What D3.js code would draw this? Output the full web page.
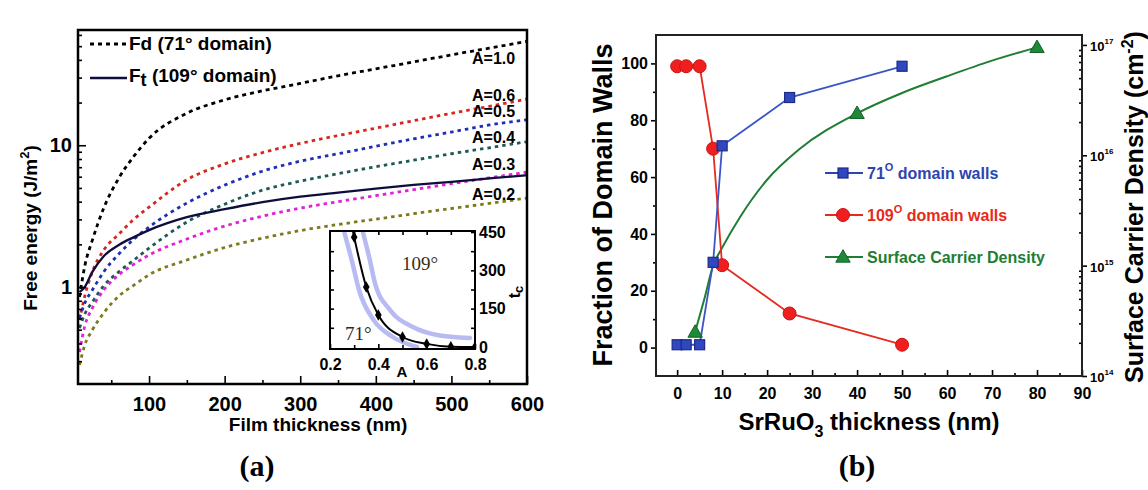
<!DOCTYPE html>
<html>
<head>
<meta charset="utf-8">
<script src="https://cdn.jsdelivr.net/npm/d3@7"></script>
<style>
body { margin: 0; background: #fff; }
</style>
</head>
<body>
<svg id="chart" width="1148" height="490" font-family="Arial, 'Liberation Sans', sans-serif"></svg>
<script>
// ---------- panel (a): free energy vs film thickness ----------
var thickness = [8, 15, 25, 40, 60, 80, 100, 150, 200, 250, 300, 350, 400, 450, 500, 550, 600];
var fdA10 = [0.85, 1.41, 2.14, 3.60, 5.86, 8.37, 11.2, 16.8, 20.9, 24.2, 27.3, 30.9, 34.6, 38.7, 43.4, 48.4, 54.0];
var fdA06 = [0.585, 0.864, 1.28, 1.82, 2.36, 3.01, 3.66, 5.71, 7.39, 8.87, 10.3, 11.7, 13.2, 14.9, 16.8, 18.8, 21.2];
var fdA05 = [0.605, 0.772, 0.952, 1.28, 1.71, 2.18, 2.65, 3.91, 5.23, 6.56, 7.72, 8.71, 9.84, 11.1, 12.4, 13.9, 15.1];
var fdA04 = [0.514, 0.645, 0.784, 1.02, 1.28, 1.55, 1.88, 2.87, 3.84, 4.82, 5.58, 6.30, 7.06, 7.84, 8.71, 9.60, 10.6];
var fdA03 = [0.348, 0.531, 0.711, 0.952, 1.22, 1.45, 1.68, 2.18, 2.69, 3.16, 3.60, 4.00, 4.41, 4.86, 5.36, 5.89, 6.45];
var fdA02 = [0.282, 0.390, 0.498, 0.656, 0.864, 1.03, 1.22, 1.55, 1.90, 2.21, 2.50, 2.76, 3.01, 3.29, 3.58, 3.89, 4.24];
var ft109 = [0.92, 1.0, 1.28, 1.65, 1.98, 2.25, 2.52, 3.11, 3.54, 3.97, 4.34, 4.64, 4.94, 5.25, 5.52, 5.83, 6.15];
var energyMajor = [1, 10];
var energyMinor = [0.3, 0.4, 0.5, 0.6, 0.7, 0.8, 0.9, 2, 3, 4, 5, 6, 7, 8, 9, 20, 30, 40, 50, 60];
var thickMajor = [100, 200, 300, 400, 500, 600];
var thickMinor = [50, 150, 250, 350, 450, 550];

// inset: critical thickness vs A
var insetA = [0.28, 0.3, 0.35, 0.4, 0.5, 0.6, 0.7, 0.8];
var insetTc = [520, 430, 235, 125, 39, 12, 1, 0];
var bandLowA = [0.26, 0.29, 0.32, 0.38, 0.46, 0.56];
var bandLowTc = [446, 340, 223, 106, 39, 0];
var bandHighA = [0.337, 0.365, 0.386, 0.448, 0.543, 0.643, 0.779];
var bandHighTc = [446, 340, 250, 145, 78, 47, 35];

// ---------- panel (b): domain walls vs SrRuO3 thickness ----------
var sroThickness = [0, 2, 5, 8, 10, 25, 50];
var walls71 = [1, 1, 1, 30, 71, 88, 99];
var walls109 = [99, 99, 99, 70, 29, 12, 1];
var densityX = [4, 40, 80];
var density = [2.5e14, 2.4e16, 9.5e16];
var densityFitX = [4, 6, 8, 10, 14, 20, 27, 40, 50, 60, 70, 80];
var densityFit = [2.5e14, 4.9e14, 1.0e15, 1.45e15, 2.76e15, 6.0e15, 1.12e16, 2.4e16, 3.67e16, 5.2e16, 7.2e16, 9.5e16];

var serif = '"Liberation Serif", "Times New Roman", serif';
var svg = d3.select('#chart');
svg.append('rect').attr('width', 1148).attr('height', 490).attr('fill', '#fff');

function zip(xs, ys) { return xs.map(function(x, i) { return [x, ys[i]]; }); }
function styleAxis(g, size) {
  g.select('.domain').remove();
  g.attr('font-family', null);
  g.selectAll('line').attr('stroke', '#000').attr('stroke-width', 1.6);
  g.selectAll('text').attr('font-size', size).attr('font-weight', 'bold').attr('fill', '#000');
}

// ===== panel (a) =====
var pa = {l: 78, r: 527, t: 30, b: 384};
var xA = d3.scaleLinear().domain([6, 600]).range([pa.l, pa.r]);
var yA = d3.scaleLog().domain([0.207, 65]).range([pa.b, pa.t]);

svg.append('clipPath').attr('id', 'clipA').append('rect')
  .attr('x', pa.l).attr('y', pa.t).attr('width', pa.r - pa.l).attr('height', pa.b - pa.t);

var seriesA = [
  {name: 'A=1.0', values: fdA10, color: '#000000', dash: '4 4', dy: 16},
  {name: 'A=0.6', values: fdA06, color: '#d8261f', dash: '3.5 4', dy: -5},
  {name: 'A=0.5', values: fdA05, color: '#1f2fb5', dash: '3.5 4', dy: -8},
  {name: 'A=0.4', values: fdA04, color: '#1d5a55', dash: '3.5 4', dy: -5},
  {name: 'A=0.3', values: fdA03, color: '#e021d8', dash: '3.5 4', dy: -8},
  {name: 'A=0.2', values: fdA02, color: '#7d7a1c', dash: '3.5 4', dy: -3}
];

var lineA = d3.line().x(function(d) { return xA(d[0]); }).y(function(d) { return yA(d[1]); })
  .curve(d3.curveMonotoneX);

var curves = svg.append('g').attr('clip-path', 'url(#clipA)');
curves.selectAll('path.fd').data(seriesA).join('path').attr('class', 'fd')
  .attr('d', function(s) { return lineA(zip(thickness, s.values)); })
  .attr('fill', 'none').attr('stroke', function(s) { return s.color; })
  .attr('stroke-width', 2.8).attr('stroke-dasharray', function(s) { return s.dash; });
curves.append('path').attr('d', lineA(zip(thickness, ft109)))
  .attr('fill', 'none').attr('stroke', '#0e0e3c').attr('stroke-width', 2.3);

// A labels near the right end
var i550 = thickness.indexOf(550);
svg.selectAll('text.alab').data(seriesA).join('text').attr('class', 'alab')
  .attr('x', 472).attr('y', function(s) { return yA(s.values[i550]) + s.dy; })
  .attr('font-size', 16).attr('font-weight', 'bold').text(function(s) { return s.name; });

// axes (ticks inward)
var axAy = svg.append('g').attr('transform', 'translate(' + pa.l + ',0)')
  .call(d3.axisLeft(yA).tickValues(energyMajor).tickSize(-8).tickPadding(6).tickFormat(d3.format('~g')));
styleAxis(axAy, 20);
var axAym = svg.append('g').attr('transform', 'translate(' + pa.l + ',0)')
  .call(d3.axisLeft(yA).tickValues(energyMinor).tickSize(-4).tickFormat(''));
styleAxis(axAym, 10);
var axAx = svg.append('g').attr('transform', 'translate(0,' + pa.b + ')')
  .call(d3.axisBottom(xA).tickValues(thickMajor).tickSize(-8).tickPadding(13));
styleAxis(axAx, 20);
var axAxm = svg.append('g').attr('transform', 'translate(0,' + pa.b + ')')
  .call(d3.axisBottom(xA).tickValues(thickMinor).tickSize(-4).tickFormat(''));
styleAxis(axAxm, 10);

svg.append('rect').attr('x', pa.l).attr('y', pa.t).attr('width', pa.r - pa.l).attr('height', pa.b - pa.t)
  .attr('fill', 'none').attr('stroke', '#000').attr('stroke-width', 2.5);

// legend (a)
svg.append('line').attr('x1', 90).attr('x2', 127).attr('y1', 44).attr('y2', 44)
  .attr('stroke', '#000').attr('stroke-width', 2.8).attr('stroke-dasharray', '4 4');
svg.append('text').attr('x', 129).attr('y', 50).attr('font-size', 19).attr('font-weight', 'bold')
  .text('Fd (71\u00b0 domain)');
svg.append('line').attr('x1', 90).attr('x2', 127).attr('y1', 78).attr('y2', 78)
  .attr('stroke', '#0e0e3c').attr('stroke-width', 2.3);
var ftLab = svg.append('text').attr('x', 129).attr('y', 82).attr('font-size', 19).attr('font-weight', 'bold');
ftLab.append('tspan').text('F');
ftLab.append('tspan').attr('dy', 4).attr('font-size', 18).text('t');
ftLab.append('tspan').attr('dy', -4).text(' (109\u00b0 domain)');

// axis titles (a)
svg.append('text').attr('x', 318).attr('y', 431).attr('text-anchor', 'middle')
  .attr('font-size', 19).attr('font-weight', 'bold').text('Film thickness (nm)');
var yTitleA = svg.append('text').attr('transform', 'translate(37,228) rotate(-90)')
  .attr('text-anchor', 'middle').attr('font-size', 19).attr('font-weight', 'bold');
yTitleA.append('tspan').text('Free energy (J/m');
yTitleA.append('tspan').attr('dy', -8).attr('font-size', 13).text('2');
yTitleA.append('tspan').attr('dy', 8).text(')');

// ----- inset -----
var ins = {l: 330, r: 475, t: 231, b: 349};
var inX = d3.scaleLinear().domain([0.2, 0.8]).range([ins.l, ins.r]);
var inY = d3.scaleLinear().domain([-8, 454]).range([ins.b, ins.t]);
svg.append('rect').attr('x', ins.l).attr('y', ins.t).attr('width', ins.r - ins.l).attr('height', ins.b - ins.t)
  .attr('fill', '#fff');
svg.append('clipPath').attr('id', 'clipIn').append('rect')
  .attr('x', ins.l).attr('y', ins.t).attr('width', ins.r - ins.l).attr('height', ins.b - ins.t);
var lineIn = d3.line().x(function(d) { return inX(d[0]); }).y(function(d) { return inY(d[1]); })
  .curve(d3.curveMonotoneX);
var inG = svg.append('g').attr('clip-path', 'url(#clipIn)');
[zip(bandLowA, bandLowTc), zip(bandHighA, bandHighTc)].forEach(function(pts) {
  inG.append('path').attr('d', lineIn(pts)).attr('fill', 'none')
    .attr('stroke', '#b7bbf2').attr('stroke-width', 4.5).attr('stroke-linecap', 'round');
});
inG.append('path').attr('d', lineIn(zip(insetA, insetTc))).attr('fill', 'none')
  .attr('stroke', '#000').attr('stroke-width', 2);
inG.selectAll('path.dia').data(zip(insetA, insetTc)).join('path').attr('class', 'dia')
  .attr('transform', function(d) { return 'translate(' + inX(d[0]) + ',' + inY(d[1]) + ')'; })
  .attr('d', d3.symbol().type(d3.symbolDiamond).size(38)).attr('fill', '#000');

var inAxB = svg.append('g').attr('transform', 'translate(0,' + ins.b + ')')
  .call(d3.axisBottom(inX).tickValues([0.2, 0.4, 0.6, 0.8]).tickSize(-5).tickPadding(10).tickFormat(d3.format('.1f')));
styleAxis(inAxB, 16);
var inAxBm = svg.append('g').attr('transform', 'translate(0,' + ins.b + ')')
  .call(d3.axisBottom(inX).tickValues([0.3, 0.5, 0.7]).tickSize(-4).tickFormat(''));
styleAxis(inAxBm, 10);
var inAxT = svg.append('g').attr('transform', 'translate(0,' + ins.t + ')')
  .call(d3.axisTop(inX).tickValues([0.3, 0.4, 0.5, 0.6, 0.7]).tickSize(-4).tickFormat(''));
styleAxis(inAxT, 10);
var inAxR = svg.append('g').attr('transform', 'translate(' + ins.r + ',0)')
  .call(d3.axisRight(inY).tickValues([0, 150, 300, 450]).tickSize(-4).tickPadding(4));
styleAxis(inAxR, 16);
var inAxRm = svg.append('g').attr('transform', 'translate(' + ins.r + ',0)')
  .call(d3.axisRight(inY).tickValues([75, 225, 375]).tickSize(-4).tickFormat(''));
styleAxis(inAxRm, 10);
var inAxL = svg.append('g').attr('transform', 'translate(' + ins.l + ',0)')
  .call(d3.axisLeft(inY).tickValues([75, 150, 225, 300, 375]).tickSize(-4).tickFormat(''));
styleAxis(inAxL, 10);
svg.append('rect').attr('x', ins.l).attr('y', ins.t).attr('width', ins.r - ins.l).attr('height', ins.b - ins.t)
  .attr('fill', 'none').attr('stroke', '#000').attr('stroke-width', 2);

svg.append('text').attr('x', inX(0.498)).attr('y', inY(301)).attr('font-size', 19)
  .attr('font-family', serif).attr('fill', '#3a2e12').text('109\u00b0');
svg.append('text').attr('x', inX(0.262)).attr('y', inY(27)).attr('font-size', 19)
  .attr('font-family', serif).attr('fill', '#2a2a20').text('71\u00b0');
svg.append('text').attr('x', 402).attr('y', 377).attr('text-anchor', 'middle')
  .attr('font-size', 15).attr('font-weight', 'bold').text('A');
var tcLab = svg.append('text').attr('transform', 'translate(520,292) rotate(-90)')
  .attr('text-anchor', 'middle').attr('font-size', 16).attr('font-weight', 'bold');
tcLab.append('tspan').text('t');
tcLab.append('tspan').attr('dy', 3).attr('font-size', 13).text('c');

svg.append('text').attr('x', 257).attr('y', 476).attr('text-anchor', 'middle')
  .attr('font-family', serif).attr('font-weight', 'bold').attr('font-size', 30).text('(a)');

// ===== panel (b) =====
var pb = {l: 656, r: 1082, t: 35, b: 376};
var xB = d3.scaleLinear().domain([-4.7, 90]).range([pb.l, pb.r]);
var yB = d3.scaleLinear().domain([-10, 110]).range([pb.b, pb.t]);
var yB2 = d3.scaleLog().domain([1e14, 1.23e17]).range([pb.b, pb.t]);

var lineB = d3.line().x(function(d) { return xB(d[0]); }).y(function(d) { return yB(d[1]); });
var lineB2 = d3.line().x(function(d) { return xB(d[0]); }).y(function(d) { return yB2(d[1]); })
  .curve(d3.curveMonotoneX);

var cBlue = '#2f43b0', cRed = '#e52a20', cGreen = '#1f7d34';

svg.append('path').attr('d', lineB2(zip(densityFitX, densityFit))).attr('fill', 'none')
  .attr('stroke', cGreen).attr('stroke-width', 2);
svg.append('path').attr('d', lineB(zip(sroThickness, walls109))).attr('fill', 'none')
  .attr('stroke', cRed).attr('stroke-width', 1.8);
svg.append('path').attr('d', lineB(zip(sroThickness, walls71))).attr('fill', 'none')
  .attr('stroke', '#3b55c8').attr('stroke-width', 1.8);

var triSym = d3.symbol().type(d3.symbolTriangle).size(90);
svg.selectAll('path.tri').data(zip(densityX, density)).join('path').attr('class', 'tri')
  .attr('transform', function(d) { return 'translate(' + xB(d[0]) + ',' + (yB2(d[1]) + 1) + ')'; })
  .attr('d', triSym).attr('fill', '#1c8a36').attr('stroke', '#13602a').attr('stroke-width', 1);
svg.selectAll('circle.red').data(zip(sroThickness, walls109)).join('circle').attr('class', 'red')
  .attr('cx', function(d) { return xB(d[0]); }).attr('cy', function(d) { return yB(d[1]); })
  .attr('r', 6.5).attr('fill', '#f01e1e').attr('stroke', '#c81414').attr('stroke-width', 1);
svg.selectAll('rect.blue').data(zip(sroThickness, walls71)).join('rect').attr('class', 'blue')
  .attr('x', function(d) { return xB(d[0]) - 5; }).attr('y', function(d) { return yB(d[1]) - 5; })
  .attr('width', 10).attr('height', 10).attr('fill', '#2f48c0').attr('stroke', '#1c2a88').attr('stroke-width', 1.2);

// axes (b)
var axBl = svg.append('g').attr('transform', 'translate(' + pb.l + ',0)')
  .call(d3.axisLeft(yB).tickValues([0, 20, 40, 60, 80, 100]).tickSize(5).tickPadding(3));
styleAxis(axBl, 16);
var axBlm = svg.append('g').attr('transform', 'translate(' + pb.l + ',0)')
  .call(d3.axisLeft(yB).tickValues([10, 30, 50, 70, 90]).tickSize(3).tickFormat(''));
styleAxis(axBlm, 10);
var axBb = svg.append('g').attr('transform', 'translate(0,' + pb.b + ')')
  .call(d3.axisBottom(xB).tickValues(d3.range(0, 91, 10)).tickSize(-6).tickPadding(12));
styleAxis(axBb, 16);
var axBbm = svg.append('g').attr('transform', 'translate(0,' + pb.b + ')')
  .call(d3.axisBottom(xB).tickValues(d3.range(5, 90, 10)).tickSize(-3).tickFormat(''));
styleAxis(axBbm, 10);

var densMajor = [1e14, 1e15, 1e16, 1e17];
var densMinor = [];
[1e14, 1e15, 1e16].forEach(function(dec) { for (var k = 2; k <= 9; k++) densMinor.push(k * dec); });
var axBr = svg.append('g').attr('transform', 'translate(' + pb.r + ',0)')
  .call(d3.axisRight(yB2).tickValues(densMajor).tickSize(5).tickFormat(''));
styleAxis(axBr, 10);
var axBrm = svg.append('g').attr('transform', 'translate(' + pb.r + ',0)')
  .call(d3.axisRight(yB2).tickValues(densMinor).tickSize(-3).tickFormat(''));
styleAxis(axBrm, 10);
var rLabs = svg.selectAll('text.rlab').data(densMajor).join('text').attr('class', 'rlab')
  .attr('x', pb.r + 8).attr('y', function(d) { return yB2(d) + 6; })
  .attr('font-size', 13).attr('font-weight', 'bold');
rLabs.append('tspan').text('10');
rLabs.append('tspan').attr('dy', -7).attr('font-size', 8)
  .text(function(d) { return Math.round(Math.log10(d)); });

svg.append('rect').attr('x', pb.l).attr('y', pb.t).attr('width', pb.r - pb.l).attr('height', pb.b - pb.t)
  .attr('fill', 'none').attr('stroke', '#222').attr('stroke-width', 2);

// legend (b)
var legB = [
  {label: '71', sup: 'O', rest: ' domain walls', color: cBlue, mark: 'square'},
  {label: '109', sup: 'O', rest: ' domain walls', color: cRed, mark: 'circle'},
  {label: 'Surface Carrier Density', sup: '', rest: '', color: cGreen, mark: 'tri'}
];
legB.forEach(function(e, i) {
  var y = 173 + i * 42;
  svg.append('line').attr('x1', 825).attr('x2', 863).attr('y1', y).attr('y2', y)
    .attr('stroke', e.color).attr('stroke-width', 2);
  if (e.mark === 'square') {
    svg.append('rect').attr('x', 838).attr('y', y - 5).attr('width', 10).attr('height', 10)
      .attr('fill', '#2f48c0').attr('stroke', '#1c2a88').attr('stroke-width', 1.2);
  } else if (e.mark === 'circle') {
    svg.append('circle').attr('cx', 843).attr('cy', y).attr('r', 6.5).attr('fill', '#f01e1e').attr('stroke', '#c81414');
  } else {
    svg.append('path').attr('transform', 'translate(843,' + (y + 1) + ')').attr('d', triSym)
      .attr('fill', '#1c8a36').attr('stroke', '#13602a');
  }
  var t = svg.append('text').attr('x', 867).attr('y', y + 6).attr('font-size', 16)
    .attr('font-weight', 'bold').attr('fill', e.color);
  t.append('tspan').text(e.label);
  if (e.sup) {
    t.append('tspan').attr('dy', -8).attr('font-size', 11).text(e.sup);
    t.append('tspan').attr('dy', 8).text(e.rest);
  }
});

// axis titles (b)
var xTitleB = svg.append('text').attr('x', 869).attr('y', 430).attr('text-anchor', 'middle')
  .attr('font-size', 24).attr('font-weight', 'bold');
xTitleB.append('tspan').text('SrRuO');
xTitleB.append('tspan').attr('dy', 7).attr('font-size', 16).text('3');
xTitleB.append('tspan').attr('dy', -7).text(' thickness (nm)');
svg.append('text').attr('transform', 'translate(612,205) rotate(-90)').attr('text-anchor', 'middle')
  .attr('font-size', 27).attr('font-weight', 'bold').text('Fraction of Domain Walls');
var yTitleB2 = svg.append('text').attr('transform', 'translate(1143,207) rotate(-90)')
  .attr('text-anchor', 'middle').attr('font-size', 25).attr('font-weight', 'bold');
yTitleB2.append('tspan').text('Surface Carrier Density (cm');
yTitleB2.append('tspan').attr('dy', -10).attr('font-size', 16).text('-2');
yTitleB2.append('tspan').attr('dy', 10).text(')');

svg.append('text').attr('x', 857).attr('y', 476).attr('text-anchor', 'middle')
  .attr('font-family', serif).attr('font-weight', 'bold').attr('font-size', 30).text('(b)');
</script>
</body>
</html>
